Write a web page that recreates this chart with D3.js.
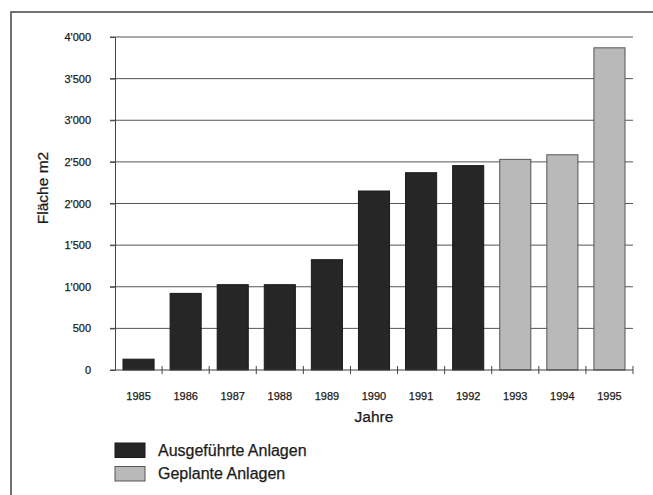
<!DOCTYPE html>
<html><head><meta charset="utf-8">
<script src="https://cdn.jsdelivr.net/npm/d3@7"></script>
<style>body{margin:0;background:#fff}svg{display:block}text{font-family:"Liberation Sans",Arial,sans-serif;fill:#1a1a1a;stroke:#1a1a1a;stroke-width:0.25px}</style>
</head><body>
<svg id="c" width="653" height="495"></svg>
<script>
const years = ["1985","1986","1987","1988","1989","1990","1991","1992","1993","1994","1995"];
const values = [130, 920, 1025, 1025, 1325, 2150, 2370, 2455, 2530, 2585, 3870];
const status = ["A","A","A","A","A","A","A","A","G","G","G"];
const yTicks = [0,500,1000,1500,2000,2500,3000,3500,4000];
const legendLabels = ["Ausgeführte Anlagen","Geplante Anlagen"];

const svg = d3.select("#c");
const L=115, R=633, T=37, B=370;
const x = d3.scaleBand().domain(years).range([L,R]).paddingInner(0.34).paddingOuter(0.17);
const y = d3.scaleLinear().domain([0,4000]).range([B,T]);
const fill = {A:"#262626", G:"#b9b9b9"};
const stroke = {A:"#1a1a1a", G:"#555"};

// frame
svg.append("path").attr("d","M11,495 L11,12 L653,12").attr("fill","none").attr("stroke","#444").attr("stroke-width",1.5);

// grid
svg.append("g").selectAll("line").data(yTicks.filter(d=>d>0)).join("line")
  .attr("x1",L-5).attr("x2",R).attr("y1",d=>y(d)).attr("y2",d=>y(d))
  .attr("stroke","#555").attr("stroke-width",1);

// y axis
const fmt = d => d>=1000 ? Math.floor(d/1000)+"'"+String(d%1000).padStart(3,"0") : String(d);
const yAxis = svg.append("g").attr("transform",`translate(${L},0)`)
  .call(d3.axisLeft(y).tickValues(yTicks).tickFormat(fmt).tickSize(5).tickPadding(19));
yAxis.select(".domain").attr("stroke","#444");
yAxis.selectAll(".tick line").attr("stroke","#444");
yAxis.selectAll("text").attr("font-size",11).attr("font-family","Liberation Sans, Arial, sans-serif").attr("fill","#1a1a1a");

// bars
svg.append("g").selectAll("rect").data(years).join("rect")
  .attr("x",d=>x(d)).attr("width",x.bandwidth())
  .attr("y",(d,i)=>y(values[i])).attr("height",(d,i)=>B-y(values[i]))
  .attr("fill",(d,i)=>fill[status[i]]).attr("stroke",(d,i)=>stroke[status[i]]).attr("stroke-width",1);

// x axis
const bounds = d3.range(years.length+1).map(i=>L+i*(R-L)/years.length);
svg.append("line").attr("x1",L-5).attr("x2",R).attr("y1",B).attr("y2",B).attr("stroke","#444").attr("stroke-width",1.2);
svg.append("g").selectAll("line").data(bounds.slice(1)).join("line")
  .attr("x1",d=>d).attr("x2",d=>d).attr("y1",B-4).attr("y2",B+4).attr("stroke","#444");
svg.append("g").selectAll("text").data(years).join("text")
  .attr("x",d=>x(d)+x.bandwidth()/2).attr("y",400).attr("text-anchor","middle")
  .attr("font-size",11).text(d=>d);

// axis titles
svg.append("text").attr("x",(L+R)/2).attr("y",422).attr("text-anchor","middle").attr("font-size",15.5).text("Jahre");
svg.append("text").attr("transform","translate(48,188) rotate(-90)").attr("text-anchor","middle").attr("font-size",15.5).text("Fläche m2");

// legend
const lg = svg.append("g").selectAll("g").data(legendLabels).join("g")
  .attr("transform",(d,i)=>`translate(115,${443+i*23.5})`);
lg.append("rect").attr("width",30).attr("height",14.5)
  .attr("fill",(d,i)=>fill[i?"G":"A"]).attr("stroke",(d,i)=>stroke[i?"G":"A"]);
lg.append("text").attr("x",43).attr("y",12.5).attr("font-size",16).text(d=>d);
</script>
</body></html>
